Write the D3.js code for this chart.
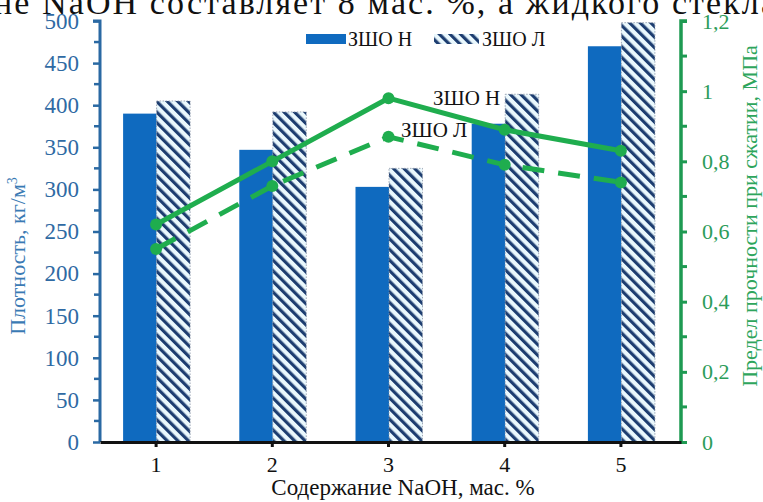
<!DOCTYPE html>
<html>
<head>
<meta charset="utf-8">
<script src="https://cdn.jsdelivr.net/npm/d3@7"></script>
<style>
  html, body { margin: 0; padding: 0; background: #ffffff; }
  svg { display: block; }
</style>
</head>
<body>
<svg id="chart" width="763" height="502"></svg>
<script>
// NaOH content, mass %
const categories = [1, 2, 3, 4, 5];
// density, kg/m3 (bars)
const densityN = [390, 347, 303, 378, 470];
const densityL = [405, 392, 325, 413, 498];
// compressive strength, MPa (lines)
const strengthN = [0.62, 0.80, 0.98, 0.89, 0.83];
const strengthL = [0.55, 0.73, 0.87, 0.79, 0.74];
const leftTicks = [0, 50, 100, 150, 200, 250, 300, 350, 400, 450, 500];
const rightTicks = [0, 0.2, 0.4, 0.6, 0.8, 1, 1.2];
const seriesNames = ["ЗШО Н", "ЗШО Л"];

const SERIF = "'Liberation Serif', 'Times New Roman', 'DejaVu Serif', serif";
const svg = d3.select("#chart");
const plotLeft = 100, plotRight = 681, plotTop = 21, plotBottom = 442;

const x = d3.scaleBand().domain(categories).range([plotLeft, plotRight]).padding(0);
const yL = d3.scaleLinear().domain([0, 500]).range([plotBottom, plotTop]);
const yR = d3.scaleLinear().domain([0, 1.2]).range([plotBottom, plotTop]);
const barW = 33.5;

const blue = "#0f6abf";
const green = "#1fad4e";
const leftAxisColor = "#2a69a3";
const rightAxisColor = "#1e9a52";

// hatch pattern for the second series
const defs = svg.append("defs");
const pat = defs.append("pattern")
  .attr("id", "hatch").attr("patternUnits", "userSpaceOnUse")
  .attr("width", 7.5).attr("height", 7.5)
  .attr("patternTransform", "rotate(-45)");
pat.append("rect").attr("width", 7.5).attr("height", 7.5).attr("fill", "#eaf8fd");
pat.append("rect").attr("x", 0).attr("width", 3.2).attr("height", 7.5).attr("fill", "#1d3d70");

// running text of the page above the chart
svg.append("text")
  .attr("x", -6).attr("y", 14)
  .attr("font-size", 34).attr("fill", "#111")
  .attr("textLength", 782).attr("lengthAdjust", "spacing")
  .text("не NaOH составляет 8 мас. %, а жидкого стекла");

// bars
const g = svg.append("g");
g.selectAll(".barN").data(categories).join("rect")
  .attr("x", d => x(d) + x.bandwidth() / 2 - barW - 1.5)
  .attr("y", (d, i) => yL(densityN[i]))
  .attr("width", barW)
  .attr("height", (d, i) => yL(0) - yL(densityN[i]))
  .attr("fill", blue);
g.selectAll(".barL").data(categories).join("rect")
  .attr("x", d => x(d) + x.bandwidth() / 2 - 1.5)
  .attr("y", (d, i) => yL(densityL[i]))
  .attr("width", barW)
  .attr("height", (d, i) => yL(0) - yL(densityL[i]))
  .attr("fill", "url(#hatch)")
  .attr("stroke", "#8a94a6").attr("stroke-width", 0.8).attr("stroke-dasharray", "1.5,1.5");

// lines
const cx = d => x(d) + x.bandwidth() / 2 - 2;
const lineGen = d3.line().x((d, i) => cx(categories[i])).y(d => yR(d));
svg.append("path").datum(strengthN).attr("d", lineGen)
  .attr("fill", "none").attr("stroke", green).attr("stroke-width", 5);
svg.append("path").datum(strengthL).attr("d", lineGen)
  .attr("fill", "none").attr("stroke", green).attr("stroke-width", 5)
  .attr("stroke-dasharray", "22,14");
[strengthN, strengthL].forEach(s => {
  svg.append("g").selectAll("circle").data(s).join("circle")
    .attr("cx", (d, i) => cx(categories[i]))
    .attr("cy", d => yR(d)).attr("r", 6).attr("fill", green);
});

// line labels
svg.append("text").attr("x", 433).attr("y", 105).attr("font-size", 21).attr("fill", "#111").text(seriesNames[0]);
svg.append("text").attr("x", 401).attr("y", 137).attr("font-size", 21).attr("fill", "#111").text(seriesNames[1]);

// left axis
const axL = svg.append("g").attr("transform", `translate(${plotLeft},0)`)
  .call(d3.axisLeft(yL).tickValues(leftTicks).tickSize(7).tickFormat(d3.format("d")));
axL.select(".domain").attr("stroke", leftAxisColor).attr("stroke-width", 3).attr("d", `M-7,${plotTop}H0V${plotBottom}`);
axL.selectAll(".tick line").attr("stroke", leftAxisColor).attr("stroke-width", 2.5);
axL.selectAll(".tick text").attr("fill", "#2f6aa3").attr("font-size", 23).attr("x", -21);
svg.append("g").attr("transform", `translate(${plotLeft},0)`)
  .selectAll("line").data(d3.range(25, 500, 50)).join("line")
  .attr("x1", -6).attr("x2", 0).attr("y1", d => yL(d)).attr("y2", d => yL(d))
  .attr("stroke", leftAxisColor).attr("stroke-width", 2.5);

// right axis
const axR = svg.append("g").attr("transform", `translate(${plotRight},0)`)
  .call(d3.axisRight(yR).tickValues(rightTicks).tickSize(6)
    .tickFormat(d => d3.format("~g")(d).replace(".", ",")));
axR.select(".domain").attr("stroke", rightAxisColor).attr("stroke-width", 3.5).attr("d", `M6,${plotTop}H0V${plotBottom}`);
axR.selectAll(".tick line").attr("stroke", rightAxisColor).attr("stroke-width", 3);
axR.selectAll(".tick text").attr("fill", "#2c9c5a").attr("font-size", 22).attr("x", 21);
svg.append("g").attr("transform", `translate(${plotRight},0)`)
  .selectAll("line").data(d3.range(0.1, 1.2, 0.2)).join("line")
  .attr("x1", 0).attr("x2", 6).attr("y1", d => yR(d)).attr("y2", d => yR(d))
  .attr("stroke", rightAxisColor).attr("stroke-width", 3);

// x axis
const axX = svg.append("g").attr("transform", `translate(0,${plotBottom})`)
  .call(d3.axisBottom(x).tickSize(5).tickSizeOuter(0));
axX.select(".domain").attr("stroke", "#111").attr("stroke-width", 3);
axX.selectAll(".tick line").attr("stroke", "#111").attr("stroke-width", 3).attr("transform", "translate(-2,0)");
axX.selectAll(".tick text").attr("fill", "#111").attr("font-size", 22).attr("y", 14).attr("dx", -2);

// axis titles
svg.append("text").attr("x", 403).attr("y", 495).attr("text-anchor", "middle")
  .attr("font-size", 23).attr("fill", "#111").text("Содержание NaOH, мас. %");
const tl = svg.append("text").attr("transform", "translate(25,256) rotate(-90)")
  .attr("text-anchor", "middle").attr("font-size", 22).attr("fill", "#3a7ab4");
tl.append("tspan").text("Плотность, кг/м");
tl.append("tspan").attr("dy", -8).attr("font-size", 14).text("3");
svg.append("text").attr("transform", "translate(757,216) rotate(-90)")
  .attr("text-anchor", "middle").attr("font-size", 22).attr("fill", "#2ea55c")
  .text("Предел прочности при сжатии, МПа");

// legend
const lg = svg.append("g");
lg.append("rect").attr("x", 306).attr("y", 34).attr("width", 40).attr("height", 10).attr("fill", blue);
lg.append("text").attr("x", 348).attr("y", 46).attr("font-size", 20).attr("fill", "#111").text(seriesNames[0]);
lg.append("rect").attr("x", 434).attr("y", 34).attr("width", 45).attr("height", 10).attr("fill", "url(#hatch)");
lg.append("text").attr("x", 482).attr("y", 46).attr("font-size", 20).attr("fill", "#111").text(seriesNames[1]);

// one serif face for every label
svg.selectAll("text").style("font-family", SERIF);
</script>
</body>
</html>
